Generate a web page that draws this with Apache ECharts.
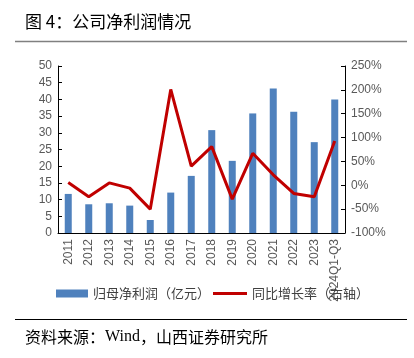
<!DOCTYPE html>
<html><head><meta charset="utf-8">
<script src="https://cdn.jsdelivr.net/npm/echarts@6/dist/echarts.min.js"></script>
<style>html,body{margin:0;padding:0;background:#fff}#c{width:414px;height:358px}</style>
</head><body><div id="c"></div>
<script>
const categories = ['2011','2012','2013','2014','2015','2016','2017','2018','2019','2020','2021','2022','2023','2024Q1-Q3'];
const netProfit = [11.7, 8.6, 8.9, 8.2, 3.9, 12.1, 17.1, 30.8, 21.6, 35.8, 43.3, 36.3, 27.2, 40.0];
const growthRate = [6, -24, 5, -6, -50, 201, 40, 81, -29, 67, 22, -17, -24, 93];
const leftTicks = {min: 0, max: 50, interval: 5};
const rightTicks = {min: -100, max: 250, interval: 50};

const chart = echarts.init(document.getElementById('c'), null, {renderer: 'canvas'});
const font = 'Liberation Sans, Arial, sans-serif';
const cjk = '"Noto Sans CJK SC", sans-serif';
const legendText = {fontFamily: cjk, fontSize: 13, color: '#404040'};
chart.setOption({
  animation: false,
  backgroundColor: '#fff',
  grid: {left: 58, right: 69, top: 66, bottom: 125, containLabel: false},
  legend: [
    {left: 51, top: 282, itemWidth: 32, itemHeight: 8, itemGap: 4, textStyle: legendText,
     data: [{name: '归母净利润（亿元）', icon: 'rect'}]},
    {left: 208, top: 282, itemWidth: 34, itemHeight: 3, itemGap: 3, textStyle: legendText,
     data: [{name: '同比增长率（右轴）', icon: 'rect', itemStyle: {color: '#C00000'}}]}
  ],
  xAxis: {
    type: 'category', data: categories, boundaryGap: true,
    axisLine: {lineStyle: {color: '#000', width: 1}},
    axisTick: {inside: true, length: 4, lineStyle: {color: '#000'}},
    axisLabel: {rotate: 90, interval: 0, color: '#595959', fontFamily: font, fontSize: 12, margin: 6}
  },
  yAxis: [
    {type: 'value', min: leftTicks.min, max: leftTicks.max, interval: leftTicks.interval,
     splitLine: {show: false},
     axisLine: {show: true, lineStyle: {color: '#000'}},
     axisTick: {show: true, inside: true, length: 4, lineStyle: {color: '#000'}},
     axisLabel: {color: '#595959', fontFamily: font, fontSize: 12, margin: 6}},
    {type: 'value', min: rightTicks.min, max: rightTicks.max, interval: rightTicks.interval,
     splitLine: {show: false},
     axisLine: {show: true, lineStyle: {color: '#000'}},
     axisTick: {show: true, inside: true, length: 4, lineStyle: {color: '#000'}},
     axisLabel: {color: '#595959', fontFamily: font, fontSize: 12, margin: 6, formatter: v => v + '%'}}
  ],
  series: [
    {name: '归母净利润（亿元）', type: 'bar', data: netProfit, barWidth: 7,
     itemStyle: {color: '#4F81BD'}},
    {name: '同比增长率（右轴）', type: 'line', yAxisIndex: 1, data: growthRate,
     symbol: 'none', lineStyle: {color: '#C00000', width: 3}, itemStyle: {color: '#C00000'}}
  ],
  graphic: [
    {type: 'text', left: 25, top: 13, style: {text: '图 4：公司净利润情况', font: '17px "Noto Sans CJK SC", sans-serif', fill: '#000'}},
    {type: 'line', shape: {x1: 15, y1: 41.5, x2: 407, y2: 41.5}, style: {stroke: '#808080', lineWidth: 1.5}},
    {type: 'line', shape: {x1: 15, y1: 319.5, x2: 407, y2: 319.5}, style: {stroke: '#000', lineWidth: 1}},
    {type: 'text', left: 25, top: 329, style: {
      text: '{c|资料来源：}{w|Wind}{c|，山西证券研究所}',
      rich: {
        c: {fontFamily: cjk, fontSize: 16, fill: '#000'},
        w: {fontFamily: '"Liberation Serif", serif', fontSize: 16, fill: '#000'}
      }
    }}
  ]
});
</script></body></html>
